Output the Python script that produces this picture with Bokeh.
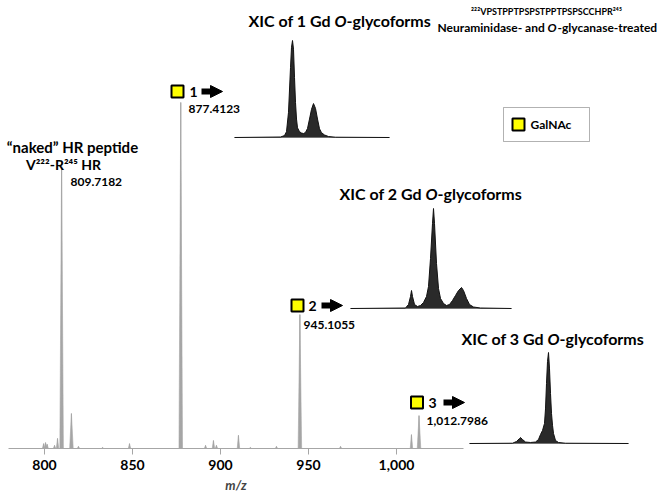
from bokeh.plotting import figure
from bokeh.models import (Range1d, LinearAxis, FixedTicker, NumeralTickFormatter, Label,
                          Arrow, NormalHead, BoxAnnotation)
from bokeh.embed import file_html
from bokeh.resources import INLINE

# ---------------- data ----------------
# mass spectrum (m/z, relative intensity %)
spec_mz = [799.5, 800.6, 801.5, 805.7, 807.4, 809.7182, 815.3, 819.3, 833.0, 848.3,
           877.4123, 891.5, 896.0, 897.7, 910.2, 917.0, 931.8, 945.1055, 968.2,
           1008.5, 1012.7986]
spec_int = [1.4, 1.7, 1.2, 0.9, 2.9, 83.2, 10.1, 0.6, 0.3, 1.4,
            100.0, 0.9, 2.3, 0.9, 3.8, 0.3, 0.6, 38.7, 0.6,
            4.0, 9.5]
tick_vals = [800, 850, 900, 950, 1000]

# XIC traces (retention time in min, relative intensity %)
xic1_rt = [0, 9.2, 10.0, 10.4, 10.8, 11.2, 11.4, 11.6, 11.8, 12.0, 12.2, 12.4, 12.6, 13.0,
           13.4, 13.8, 14.2, 14.6, 15.0, 15.4, 15.8, 16.2, 16.6, 17.0, 17.4, 18.0, 18.8,
           20.2, 31.0]
xic1_int = [0, 0.5, 2, 6, 26, 72, 93, 100, 91, 62, 36, 19, 10, 6,
            4.6, 4.1, 5.2, 9.3, 19, 29, 35, 30, 19, 9, 5, 2.6, 1,
            0.3, 0]
xic2_rt = [0, 11.0, 11.6, 12.0, 12.2, 12.4, 12.8, 13.4, 14.0, 14.6, 15.2, 15.6, 16.0, 16.4,
           16.6, 16.8, 17.2, 17.6, 18.0, 18.6, 19.2, 19.8, 20.4, 21.0, 21.6, 22.2, 22.6,
           23.2, 23.8, 24.6, 26.0, 32.2]
xic2_int = [0, 0.5, 4, 12, 18, 12, 4, 2, 3, 6, 12, 22, 50, 85,
            100, 85, 45, 20, 10, 5, 3, 4, 8, 13, 18, 21, 18,
            10, 4, 1.5, 0.5, 0]
xic3_rt = [0, 8.6, 9.4, 10.0, 10.2, 10.6, 11.2, 12.2, 13.2, 13.8, 14.2, 14.6, 15.0, 15.2,
           15.4, 15.6, 15.8, 16.0, 16.2, 16.4, 16.6, 16.8, 17.2, 17.8, 19.2, 31.8]
xic3_int = [0, 0.3, 2.2, 5.5, 6.6, 4.4, 1.6, 1.1, 1.6, 4.4, 9.9, 14.3, 22, 38,
            66, 90, 100, 82, 55, 33, 20, 11, 3.3, 1.1, 0.3, 0]

# ---------------- layout helpers ----------------
W, H = 666, 494
PX_PER_MZ = 1.76
MZ0 = 800 - 44 / PX_PER_MZ
PX_PER_PCT = 3.46
BASE = 448  # page y of spectrum baseline


def X(px):
    return MZ0 + px / PX_PER_MZ


def Y(py):
    return (BASE - py) / PX_PER_PCT


p = figure(width=W, height=H, output_backend="svg", toolbar_location=None,
           x_range=Range1d(X(0), X(W)), y_range=Range1d(Y(H), Y(0)),
           x_axis_location=None, y_axis_location=None, min_border=0,
           outline_line_color=None, background_fill_color="white",
           border_fill_color="white")
p.xgrid.visible = False
p.ygrid.visible = False

FONT = "Lato"
GRAY = "#a6a6a6"

# x axis at intensity 0
ax = LinearAxis(fixed_location=0, bounds=(X(8), X(463)),
                ticker=FixedTicker(ticks=tick_vals),
                formatter=NumeralTickFormatter(format="0,0"),
                axis_label="m/z")
ax.axis_line_color = GRAY
ax.major_tick_line_color = GRAY
ax.major_tick_out = 6
ax.major_tick_in = 0
ax.minor_tick_out = 0
ax.minor_tick_in = 0
ax.major_label_text_font = FONT
ax.major_label_text_font_style = "bold"
ax.major_label_text_font_size = "14px"
ax.major_label_text_color = "black"
ax.major_label_standoff = 5
ax.axis_label_text_font = FONT
ax.axis_label_text_font_style = "bold italic"
ax.axis_label_text_font_size = "13px"
ax.axis_label_standoff = 4
p.add_layout(ax, "below")

# spectrum peaks
hw = [1.0 if v > 5 else 0.7 for v in spec_int]
xs = [[m - w, m, m + w] for m, w in zip(spec_mz, hw)]
ys = [[0, v, 0] for v in spec_int]
p.patches(xs, ys, fill_color=GRAY, line_color=GRAY, line_width=0.6)
p.segment(x0=spec_mz, y0=[0] * len(spec_mz), x1=spec_mz, y1=spec_int,
          line_color=GRAY, line_width=1)

# XIC insets: (rt, int, left px, baseline px, height px for 100 %)
insets = [(xic1_rt, xic1_int, 234, 137, 97),
          (xic2_rt, xic2_int, 350, 308, 100),
          (xic3_rt, xic3_int, 469, 443, 91)]
PX_PER_MIN = 5.0
for rt, it, l, b, hh in insets:
    xx = [X(l + t * PX_PER_MIN) for t in rt]
    yy = [Y(b - v / 100.0 * hh) for v in it]
    p.segment(x0=[xx[0]], y0=[Y(b)], x1=[xx[-1]], y1=[Y(b)], line_color="#bdbdbd", line_width=1)
    p.varea(x=xx, y1=[Y(b)] * len(xx), y2=yy, fill_color="#2a2a2a")
    p.line(xx, yy, line_color="#111111", line_width=1)


def lab(text, px, py, size, align="left", style="bold", color="black"):
    p.add_layout(Label(x=X(px), y=Y(py), text=text, text_font=FONT,
                       text_font_size=f"{size}px", text_font_style=style,
                       text_align=align, text_baseline="middle", text_color=color))


# XIC titles
for k, sx, sy in [(1, 248, 20), (2, 339, 193), (3, 461, 338)]:
    lab(f"XIC of {k} Gd", sx, sy, 16)
    lab("O", sx + 86, sy, 16, style="bold italic")
    lab("-glycoforms", sx + 98, sy, 16)

# header
lab("²²²VPSTPPTPSPSTPPTPSPSCCHPR²⁴⁵", 546, 11, 9, align="center")
lab("Neuraminidase- and", 437, 27, 12)
lab("O", 547, 27, 12, style="bold italic")
lab("-glycanase-treated", 557, 27, 12)

# legend
p.add_layout(BoxAnnotation(left=X(503), right=X(589), top=Y(107), bottom=Y(141),
                           fill_alpha=0, line_color="black", line_width=1))
lab("GalNAc", 530, 124, 12)

# naked peptide
lab("“naked” HR peptide", 72, 146, 15, align="center")
lab("V²²²-R²⁴⁵ HR", 63, 164, 14, align="center")
lab("809.7182", 70, 181, 12)

# glycoform markers
sq_x = [X(177), X(297), X(416.5), X(518)]
sq_y = [Y(91), Y(305), Y(402), Y(124)]
p.scatter(sq_x, sq_y, marker="square", size=12, fill_color="#ffff00",
          line_color="black", line_width=2)
for n, nx, ny, a0, a1 in [(1, 189, 91, 201, 222), (2, 308, 305, 321, 342),
                          (3, 428, 402, 443, 464)]:
    lab(str(n), nx, ny, 14)
    p.add_layout(Arrow(end=NormalHead(size=12, fill_color="black", line_color="black"),
                       x_start=X(a0), y_start=Y(ny), x_end=X(a1), y_end=Y(ny),
                       line_width=6, line_color="black"))
lab("877.4123", 188, 108, 12)
lab("945.1055", 303, 324, 12)
lab("1,012.7986", 426, 420, 12)

open("out.html", "w").write(file_html(p, INLINE))
